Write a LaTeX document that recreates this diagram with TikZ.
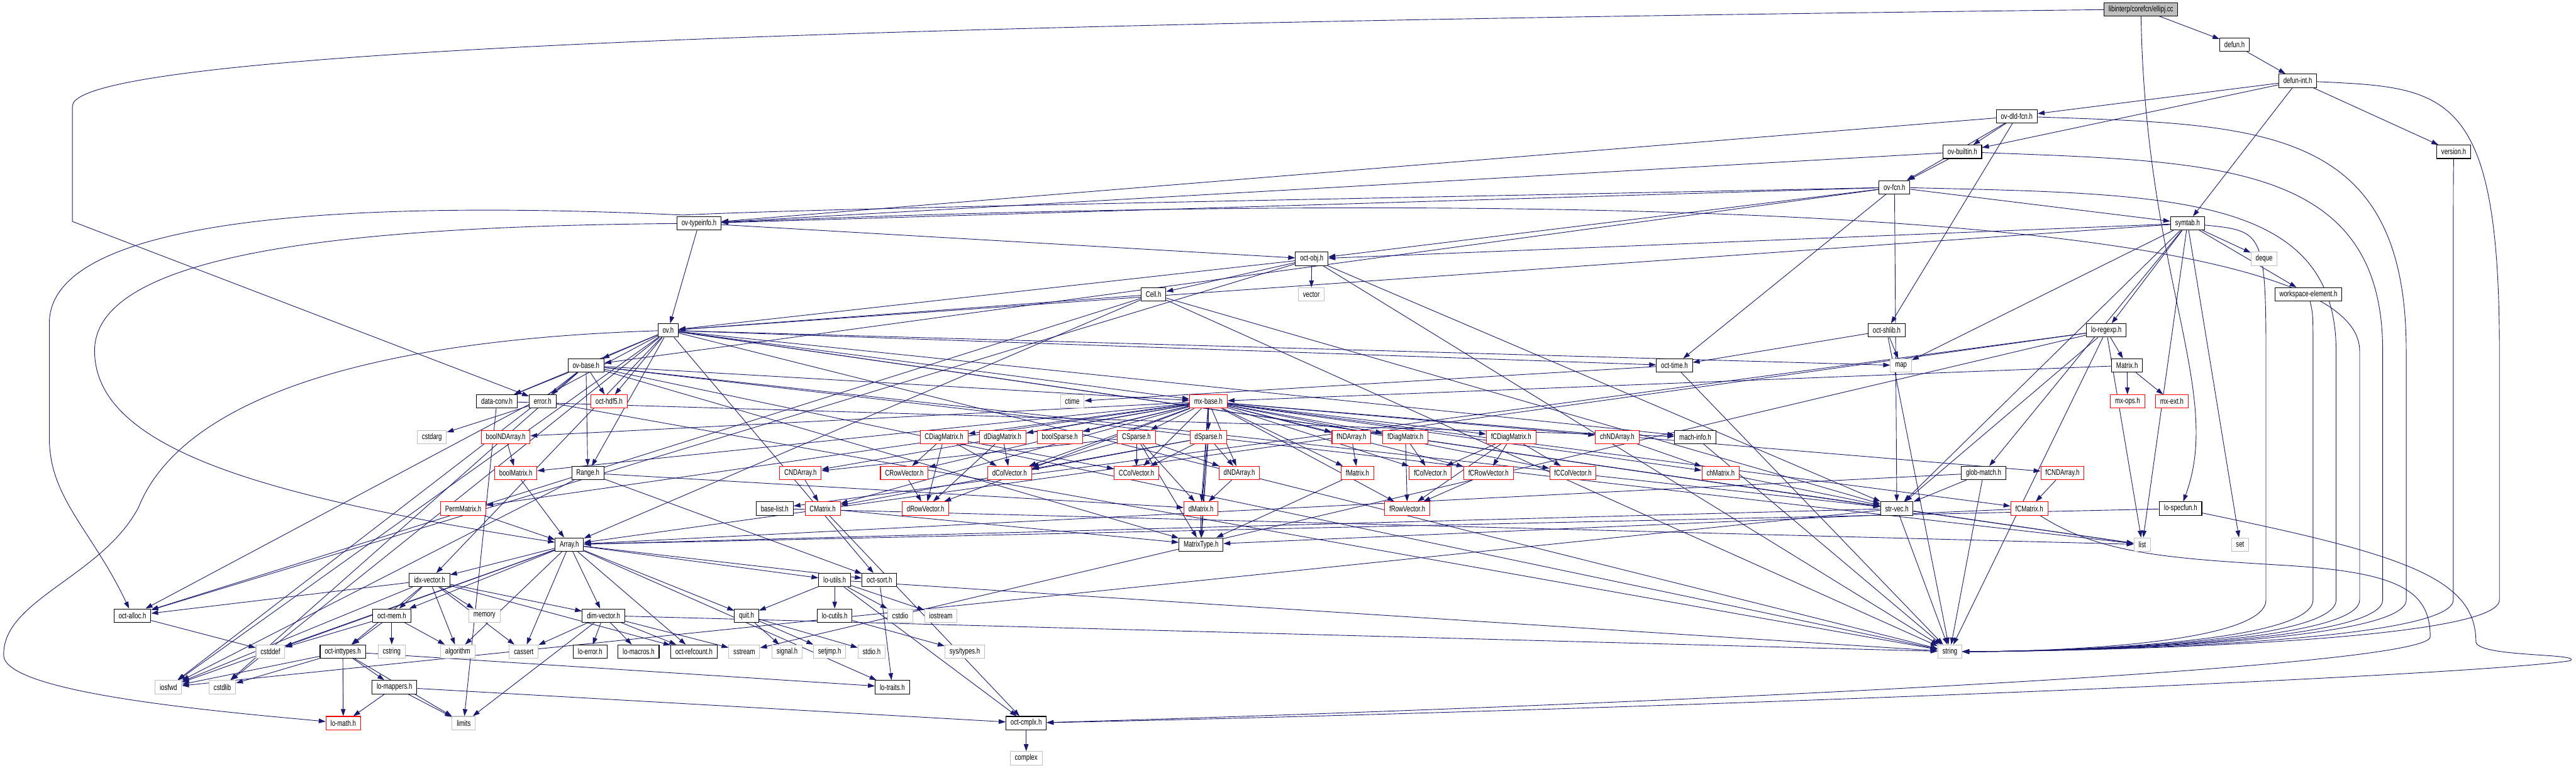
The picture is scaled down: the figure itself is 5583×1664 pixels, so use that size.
\documentclass[tikz,border=0pt]{standalone}
\usepackage{fontspec}
\newfontfamily\dotfont[FakeStretch=0.75]{Liberation Sans}
\usetikzlibrary{arrows.meta}
\definecolor{edgeblue}{HTML}{191970}
\definecolor{sysgray}{HTML}{BFBFBF}
\definecolor{truncred}{HTML}{FF0000}
\pgfdeclarelayer{background}
\pgfsetlayers{background,main}

\begin{document}
\begin{tikzpicture}[x=0.01cm, y=-0.01cm, font=\dotfont\fontsize{5}{6}\selectfont,
  hdr/.style={draw=black, line width=0.4pt, fill=white, minimum height=0.29cm, inner xsep=0.1cm, inner ysep=0pt},
  sys/.style={hdr, draw=sysgray},
  trunc/.style={hdr, draw=truncred},
  root/.style={hdr, fill=sysgray},
  dep/.style={draw=edgeblue, line width=0.35pt, -{Triangle[length=1.5mm,width=1mm]}}]
\useasboundingbox (0,0) rectangle (5583,1664);
% ---------------- upper part: interpreter headers ----------------
\node[root] (ellipj) at (4640,20) {libinterp/corefcn/ellipj.cc};
\node[hdr] (defun) at (4843,97) {defun.h};
\node[hdr] (defunint) at (4980,175) {defun-int.h};
\node[hdr] (ovdld) at (4371,252) {ov-dld-fcn.h};
\node[hdr] (ovbuiltin) at (4253,329) {ov-builtin.h};
\node[hdr] (version) at (5318,329) {version.h};
\node[hdr] (ovfcn) at (4106,406) {ov-fcn.h};
\node[hdr] (symtab) at (4741,484) {symtab.h};
\node[hdr] (ovtypeinfo) at (1515,484) {ov-typeinfo.h};
\node[hdr] (octobj) at (2843,561) {oct-obj.h};
\node[sys] (deque) at (4907,561) {deque};
\node[hdr] (cell) at (2500,638) {Cell.h};
\node[sys] (vector) at (2842,638) {vector};
\node[hdr] (wselem) at (5003,638) {workspace-element.h};
\node[hdr] (ovh) at (1448,716) {ov.h};
\node[hdr] (octshlib) at (4089,716) {oct-shlib.h};
\node[hdr] (loregexp) at (4565,716) {lo-regexp.h};
\node[hdr] (ovbase) at (1270,792) {ov-base.h};
\node[hdr] (octtime) at (3629,792) {oct-time.h};
\node[sys] (map) at (4120,792) {map};
\node[hdr] (matrix) at (4610,792) {Matrix.h};
\node[hdr] (dataconv) at (1077,870) {data-conv.h};
\node[hdr] (error) at (1176,870) {error.h};
\node[trunc] (octhdf) at (1320,870) {oct-hdf5.h};
\node[sys] (ctime) at (2324,870) {ctime};
\node[trunc] (mxbase) at (2619,870) {mx-base.h};
\node[trunc] (mxops) at (4611,870) {mx-ops.h};
\node[trunc] (mxext) at (4707,870) {mx-ext.h};
% ---------------- matrix classes ----------------
\node[sys] (cstdarg) at (936,947) {cstdarg};
\node[trunc] (boolnd) at (1096,947) {boolNDArray.h};
\node[trunc] (cdiag) at (2046,947) {CDiagMatrix.h};
\node[trunc] (ddiag) at (2173,947) {dDiagMatrix.h};
\node[trunc] (boolsp) at (2297,947) {boolSparse.h};
\node[trunc] (csparse) at (2463,947) {CSparse.h};
\node[trunc] (dsparse) at (2619,947) {dSparse.h};
\node[trunc] (fnd) at (2929,947) {fNDArray.h};
\node[trunc] (fdiag) at (3046,947) {fDiagMatrix.h};
\node[trunc] (fcdiag) at (3275,947) {fCDiagMatrix.h};
\node[trunc] (chnd) at (3505,947) {chNDArray.h};
\node[hdr] (machinfo) at (3674,947) {mach-info.h};
\node[trunc] (boolmat) at (1118,1025) {boolMatrix.h};
\node[hdr] (range) at (1274,1025) {Range.h};
\node[trunc] (cnd) at (1735,1025) {CNDArray.h};
\node[trunc] (crow) at (1960,1025) {CRowVector.h};
\node[trunc] (dcol) at (2188,1025) {dColVector.h};
\node[trunc] (ccol) at (2463,1025) {CColVector.h};
\node[trunc] (dnd) at (2686,1025) {dNDArray.h};
\node[trunc] (fmat) at (2942,1025) {fMatrix.h};
\node[trunc] (fcol) at (3100,1025) {fColVector.h};
\node[trunc] (fcrow) at (3226,1025) {fCRowVector.h};
\node[trunc] (fccol) at (3409,1025) {fCColVector.h};
\node[trunc] (chmat) at (3729,1025) {chMatrix.h};
\node[hdr] (globmatch) at (4299,1025) {glob-match.h};
\node[trunc] (fcnd) at (4470,1025) {fCNDArray.h};
\node[trunc] (permmat) at (1004,1102) {PermMatrix.h};
\node[hdr] (baselist) at (1679,1102) {base-list.h};
\node[trunc] (cmat) at (1783,1102) {CMatrix.h};
\node[trunc] (drow) at (2006,1102) {dRowVector.h};
\node[trunc] (dmat) at (2603,1102) {dMatrix.h};
\node[trunc] (frow) at (3050,1102) {fRowVector.h};
\node[hdr] (strvec) at (4111,1102) {str-vec.h};
\node[trunc] (fcmat) at (4398,1102) {fCMatrix.h};
\node[hdr] (lospecfun) at (4726,1102) {lo-specfun.h};
% ---------------- lower part: liboctave basics ----------------
\node[hdr] (array) at (1234,1180) {Array.h};
\node[hdr] (mtype) at (2603,1180) {MatrixType.h};
\node[sys] (list) at (4643,1180) {list};
\node[sys] (set) at (4855,1180) {set};
\node[hdr] (idxvec) at (931,1257) {idx-vector.h};
\node[hdr] (loutils) at (1809,1257) {lo-utils.h};
\node[hdr] (octsort) at (1906,1257) {oct-sort.h};
\node[hdr] (octalloc) at (287,1334) {oct-alloc.h};
\node[hdr] (octmem) at (849,1334) {oct-mem.h};
\node[sys] (memory) at (1050,1334) {memory};
\node[hdr] (dimvec) at (1308,1334) {dim-vector.h};
\node[hdr] (quit) at (1618,1334) {quit.h};
\node[hdr] (locutils) at (1809,1334) {lo-cutils.h};
\node[sys] (cstdio) at (1951,1334) {cstdio};
\node[sys] (iostream) at (2039,1334) {iostream};
\node[sys] (cstddef) at (586,1412) {cstddef};
\node[hdr] (octint) at (743,1412) {oct-inttypes.h};
\node[sys] (cstring) at (849,1412) {cstring};
\node[sys] (algorithm) at (992,1412) {algorithm};
\node[sys] (cassert) at (1135,1412) {cassert};
\node[hdr] (loerror) at (1279,1412) {lo-error.h};
\node[hdr] (lomacros) at (1384,1412) {lo-macros.h};
\node[hdr] (octref) at (1504,1412) {oct-refcount.h};
\node[sys] (sstream) at (1613,1412) {sstream};
\node[sys] (signal) at (1706,1412) {signal.h};
\node[sys] (setjmp) at (1798,1412) {setjmp.h};
\node[sys] (stdio) at (1889,1412) {stdio.h};
\node[sys] (systypes) at (2091,1412) {sys/types.h};
\node[sys] (string) at (4226,1412) {string};
\node[sys] (iosfwd) at (365,1489) {iosfwd};
\node[sys] (cstdlib) at (482,1489) {cstdlib};
\node[hdr] (lomappers) at (855,1489) {lo-mappers.h};
\node[hdr] (lotraits) at (1934,1489) {lo-traits.h};
\node[trunc] (lomath) at (744,1567) {lo-math.h};
\node[sys] (limits) at (1005,1567) {limits};
\node[hdr] (octcmplx) at (2224,1567) {oct-cmplx.h};
\node[sys] (complex) at (2224,1643) {complex};

\begin{pgfonlayer}{background}
% ---------------- direct includes ----------------
\foreach \s/\t in {ellipj/defun,defun/defunint,
  defunint/ovdld,defunint/ovbuiltin,defunint/symtab,defunint/version,
  ovdld/ovbuiltin,ovdld/ovfcn,ovdld/ovtypeinfo,ovdld/octshlib,
  ovbuiltin/ovfcn,ovbuiltin/ovtypeinfo,
  ovfcn/ovtypeinfo,ovfcn/octobj,ovfcn/octtime,ovfcn/symtab,ovfcn/strvec,ovfcn/ovbase,
  symtab/deque,symtab/list,symtab/map,symtab/set,symtab/globmatch,symtab/loregexp,
  symtab/octobj,symtab/ovh,symtab/wselem,symtab/strvec,
  ovtypeinfo/ovh,ovtypeinfo/octobj,
  octobj/vector,octobj/cell,octobj/ovh,octobj/strvec,octobj/octalloc,octobj/string,
  cell/array,cell/octalloc,cell/strvec,cell/ovh,cell/string}
  \draw[dep] (\s) -- (\t);
\foreach \t in {ovbase,mxbase,octtime,strvec,string,range,dataconv,idxvec,machinfo,
  octhdf,octsort,cstdlib,iosfwd,list,map,octalloc}
  \draw[dep] (ovh) -- (\t);
\foreach \s/\t in {octshlib/map,octshlib/string,octshlib/octtime,
  loregexp/matrix,loregexp/array,loregexp/baselist,loregexp/strvec,loregexp/list,
  loregexp/string,loregexp/sstream,
  ovbase/dataconv,ovbase/error,ovbase/octhdf,ovbase/range,ovbase/mxbase,ovbase/strvec,
  ovbase/string,ovbase/list,ovbase/iosfwd,ovbase/cstdlib,ovbase/mtype,
  octtime/ctime,octtime/string,
  matrix/mxbase,matrix/mxops,matrix/mxext,
  dataconv/machinfo,dataconv/limits,error/cstdarg,error/string}
  \draw[dep] (\s) -- (\t);
% ---------------- matrix types ----------------
\foreach \t in {mtype,boolmat,chmat,dmat,cmat,fmat,fcmat,dcol,ccol,fcol,fccol,drow,crow,
  frow,fcrow,ddiag,cdiag,fdiag,fcdiag,permmat,boolnd,chnd,dnd,cnd,fnd,fcnd,boolsp,
  csparse,dsparse}
  \draw[dep] (mxbase) -- (\t);
\foreach \s/\t in {boolnd/boolmat,boolmat/array,permmat/array,
  range/dmat,range/octsort,range/iosfwd,
  cdiag/crow,cdiag/ccol,cdiag/dcol,cdiag/drow,ddiag/dcol,ddiag/drow,
  csparse/ccol,csparse/dcol,csparse/dnd,csparse/cnd,csparse/dmat,csparse/mtype,
  dsparse/dcol,dsparse/ccol,dsparse/dnd,dsparse/dmat,dsparse/cmat,dsparse/mtype,
  cnd/cmat,crow/drow,dnd/dmat,cmat/mtype,cmat/octcmplx,dmat/mtype,
  fnd/fmat,fdiag/fcol,fdiag/frow,fcdiag/fcol,fcdiag/fcrow,fcdiag/fccol,fcdiag/frow,
  chnd/chmat,fmat/mtype,fcrow/frow,chmat/strvec,fcnd/fcmat,fcmat/mtype,
  globmatch/array,globmatch/strvec,globmatch/string,machinfo/string,
  strvec/iosfwd,strvec/list,strvec/string,strvec/array,lospecfun/array,baselist/list}
  \draw[dep] (\s) -- (\t);
% ---------------- liboctave basics ----------------
\foreach \s/\t in {array/idxvec,array/dimvec,array/cassert,array/algorithm,array/cstddef,
  array/iosfwd,array/loutils,array/octsort,array/quit,array/octmem,array/octref,
  array/lotraits,
  idxvec/octalloc,idxvec/octmem,idxvec/memory,idxvec/algorithm,idxvec/cassert,
  idxvec/dimvec,idxvec/octint,idxvec/iosfwd,idxvec/octref,
  loutils/quit,loutils/locutils,loutils/cstdio,loutils/iostream,loutils/string,
  loutils/octcmplx,octsort/lotraits,octalloc/cstddef,
  octmem/cstddef,octmem/octint,octmem/cstring,octmem/algorithm,
  dimvec/cassert,dimvec/loerror,dimvec/lomacros,dimvec/limits,dimvec/octref,
  dimvec/sstream,dimvec/string,
  quit/signal,quit/setjmp,quit/stdio,locutils/systypes,
  octint/iosfwd,octint/cstdlib,octint/lomath,octint/lomappers,octint/limits,
  octint/lotraits,
  lomappers/lomath,lomappers/limits,lomappers/octcmplx,octcmplx/complex}
  \draw[dep] (\s) -- (\t);
% ---------------- long routed includes ----------------
\foreach \s/\x/\ax/\ay in {symtab/4911/4900/500,wselem/5013/5013/680,ovfcn/5063/4700/420,
  ovtypeinfo/5114/3000/420,ovbuiltin/5164/4800/350,ovdld/5215/4900/270,
  version/5317/5317/400,defunint/5417/5300/190}
  \draw[dep] (\s) .. controls (\ax,\ay) and (\x,\ay) .. (\x,760) -- (\x,1300)
    .. controls (\x,1395) and (4450,1412) .. (string.east);
\draw[dep] (ellipj) .. controls (2500,45) and (157,90) .. (157,230) -- (157,480) -- (error);
\draw[dep] (ellipj) .. controls (4650,600) and (4820,850) .. (lospecfun);
\draw[dep] (ovfcn) .. controls (3000,430) and (1800,450) .. (1480,466)
  .. controls (700,430) and (107,480) .. (107,700) -- (107,950)
  .. controls (107,1080) and (200,1150) .. (octalloc);
\draw[dep] (ovtypeinfo) .. controls (800,490) and (205,540) .. (205,760)
  .. controls (205,980) and (600,1080) .. (array);
\draw[dep] (ovh) .. controls (700,740) and (380,900) .. (300,1100)
  .. controls (220,1250) and (5,1300) .. (8,1420)
  .. controls (10,1500) and (450,1540) .. (lomath);
\draw[dep] (lospecfun) .. controls (5200,1200) and (5366,1250) .. (5366,1390)
  .. controls (5366,1425) and (5600,1415) .. (5570,1432)
  .. controls (5300,1470) and (3500,1540) .. (octcmplx);
\draw[dep] (fcmat) .. controls (4550,1200) and (4700,1210) .. (4950,1225)
  .. controls (5200,1240) and (5267,1280) .. (5267,1380)
  .. controls (5267,1450) and (3500,1530) .. (octcmplx);
\end{pgfonlayer}
\end{tikzpicture}
\end{document}
